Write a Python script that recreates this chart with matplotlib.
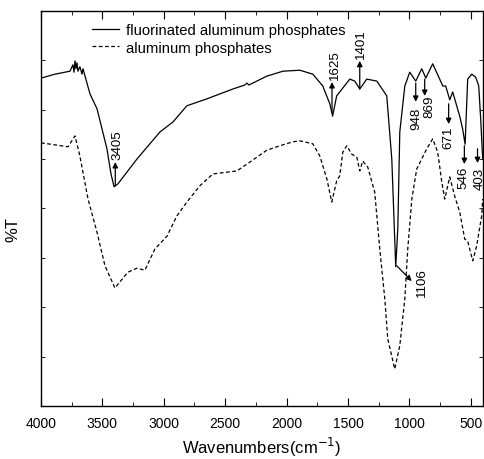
import matplotlib
matplotlib.use("Agg")
import matplotlib.pyplot as plt
from matplotlib.ticker import MultipleLocator

plt.rcParams['font.family'] = ['Liberation Sans', 'DejaVu Sans']

# fluorinated aluminum phosphates (solid)
wn_f = [4000, 3886, 3764, 3740, 3731, 3723, 3715, 3707, 3699, 3683, 3666, 3658,
        3601, 3544, 3463, 3430, 3405, 3373, 3219, 3031, 2926, 2812, 2649, 2437,
        2340, 2323, 2307, 2161, 2030, 1892, 1786, 1705, 1648, 1625, 1592, 1485,
        1445, 1404, 1347, 1265, 1184, 1143, 1111, 1094, 1078, 1037, 997, 948,
        899, 866, 810, 753, 728, 704, 671, 647, 590, 566, 546, 525, 492, 460,
        435, 419, 403]
t_f = [6.64, 6.72, 6.78, 6.91, 6.76, 6.99, 6.83, 6.95, 6.78, 6.87, 6.72, 6.83,
       6.32, 6.02, 5.21, 4.70, 4.44, 4.50, 5.00, 5.55, 5.75, 6.08, 6.22, 6.42,
       6.50, 6.54, 6.50, 6.68, 6.78, 6.80, 6.72, 6.48, 6.12, 5.87, 6.28, 6.62,
       6.58, 6.42, 6.62, 6.58, 6.28, 5.00, 2.82, 3.60, 5.55, 6.48, 6.76, 6.58,
       6.83, 6.64, 6.93, 6.62, 6.48, 6.48, 6.20, 6.36, 5.87, 5.61, 5.30, 6.62,
       6.72, 6.66, 6.48, 5.81, 5.00]

# aluminum phosphates (dashed)
wn_a = [4000, 3780, 3723, 3683, 3617, 3544, 3479, 3398, 3292, 3219, 3154, 3072,
        2974, 2893, 2812, 2706, 2600, 2405, 2299, 2161, 2055, 1949, 1892, 1786,
        1729, 1672, 1632, 1592, 1567, 1542, 1510, 1469, 1428, 1404, 1380, 1339,
        1282, 1241, 1200, 1176, 1119, 1078, 1037, 1013, 980, 940, 858, 810, 769,
        736, 712, 671, 631, 590, 549, 525, 484, 452, 411, 403]
t_a = [5.33, 5.25, 5.47, 5.06, 4.19, 3.52, 2.84, 2.39, 2.71, 2.79, 2.75, 3.18,
       3.44, 3.85, 4.13, 4.46, 4.70, 4.76, 4.94, 5.18, 5.27, 5.35, 5.37, 5.31,
       5.06, 4.60, 4.13, 4.56, 4.66, 5.14, 5.27, 5.10, 5.04, 4.76, 4.96, 4.84,
       4.33, 3.18, 2.17, 1.36, 0.75, 1.22, 2.17, 3.18, 4.19, 4.80, 5.21, 5.41,
       5.14, 4.54, 4.19, 4.64, 4.25, 3.93, 3.38, 3.34, 2.94, 3.24, 3.85, 4.19]

# peak labels
up_labels = ["3405", "1625", "1401"]
up_x = [3395, 1630, 1404]
up_y0 = [4.46, 5.95, 6.42]
up_y1 = [4.94, 6.56, 6.99]
up_tx = [3373, 1607, 1396]

down_labels = ["948", "869", "671", "546", "403"]
down_x = [948, 875, 680, 552, 445]
down_y0 = [6.54, 6.62, 6.12, 5.27, 5.21]
down_y1 = [6.16, 6.28, 5.71, 4.90, 4.92]
down_tx = [940, 834, 680, 556, 431]
down_ty = [6.06, 6.30, 5.67, 4.86, 4.84]

fig = plt.figure(figsize=(4.84, 4.60), dpi=100)
ax = fig.add_axes([0.0847, 0.1152, 0.9133, 0.8588])

ax.plot(wn_f, t_f, color='black', lw=0.9, label='fluorinated aluminum phosphates')
ax.plot(wn_a, t_a, color='black', lw=0.9, ls=(0, (3, 2)), label='aluminum phosphates')

ax.set_xlim(4000, 400)
ax.set_ylim(0, 8)
ax.xaxis.set_major_locator(MultipleLocator(500))
ax.xaxis.set_minor_locator(MultipleLocator(250))
ax.yaxis.set_major_locator(MultipleLocator(1))
ax.tick_params(axis='x', which='major', direction='in', length=6, width=0.8,
               top=True, labelsize=10, pad=7)
ax.tick_params(axis='x', which='minor', direction='in', length=3, width=0.6, top=True)
ax.tick_params(axis='y', which='major', direction='in', length=3, width=0.6,
               right=True, left=True, labelleft=False)
for s in ax.spines.values():
    s.set_linewidth(1.0)

ax.set_xlabel('Wavenumbers(cm$^{-1}$)', fontsize=12, labelpad=4)
ax.set_ylabel('%T', fontsize=12)
ax.yaxis.set_label_coords(-0.047, 0.45)

arrow_kw = dict(arrowstyle='-|>', color='black', lw=0.9, mutation_scale=8,
                shrinkA=0, shrinkB=0)
fs = 9.6
for lab, x, y0, y1, tx in zip(up_labels, up_x, up_y0, up_y1, up_tx):
    ax.annotate('', xy=(x, y1), xytext=(x, y0), arrowprops=arrow_kw)
    ax.text(tx, y1 + 0.06, lab, rotation=90, ha='center', va='bottom', fontsize=fs)
for lab, x, y0, y1, tx, ty in zip(down_labels, down_x, down_y0, down_y1, down_tx, down_ty):
    ax.annotate('', xy=(x, y1), xytext=(x, y0), arrowprops=arrow_kw)
    ax.text(tx, ty, lab, rotation=90, ha='center', va='top', fontsize=fs, clip_on=False)
# 1106 diagonal arrow
ax.annotate('', xy=(981, 2.53), xytext=(1103, 2.84), arrowprops=arrow_kw)
ax.text(899, 2.82, '1106', rotation=90, ha='center', va='top', fontsize=fs)

leg = ax.legend(loc='upper left', bbox_to_anchor=(0.089, 1.0), frameon=False,
                fontsize=10.7, handlelength=1.8, handletextpad=0.47,
                labelspacing=0.25, borderaxespad=0.5, borderpad=0.3)

fig.savefig('out.png', dpi=100)
